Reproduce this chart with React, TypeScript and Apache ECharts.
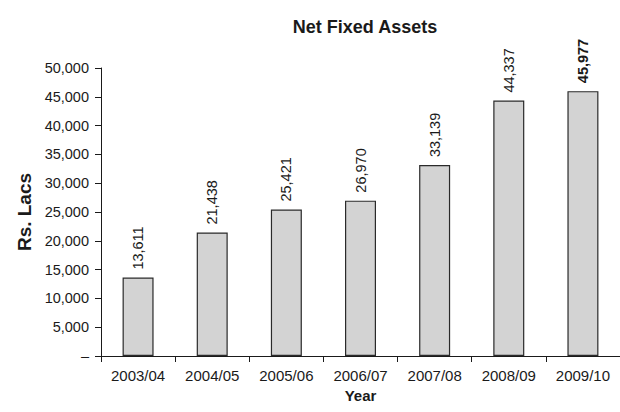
import React, { useEffect, useRef } from "react";
import * as echarts from "echarts";

const categories = ["2003/04", "2004/05", "2005/06", "2006/07", "2007/08", "2008/09", "2009/10"];
const values = [13611, 21438, 25421, 26970, 33139, 44337, 45977];
const boldIndex = 6;
const titleText = "Net Fixed Assets";
const yName = "Rs. Lacs";
const xName = "Year";

const FONT = "'Liberation Sans', Arial, Helvetica, sans-serif";
const fmt = (v: number) => v.toLocaleString("en-US");

export default function App() {
  const ref = useRef<HTMLDivElement>(null);
  useEffect(() => {
    if (!ref.current) return;
    const chart = echarts.init(ref.current, undefined, { renderer: "svg" });
    chart.setOption({
      animation: false,
      backgroundColor: "#ffffff",
      title: {
        text: titleText,
        left: 360,
        top: 13,
        textAlign: "center",
        textStyle: { fontFamily: FONT, fontSize: 18, fontWeight: "bold", color: "#1a1a1a" },
      },
      grid: { left: 101, right: -4, top: 68, bottom: 56, containLabel: false },
      xAxis: {
        type: "category",
        data: categories,
        name: xName,
        nameLocation: "middle",
        nameGap: 30,
        nameTextStyle: { fontFamily: FONT, fontSize: 15, fontWeight: "bold", color: "#1a1a1a" },
        axisLine: { lineStyle: { color: "#1a1a1a", width: 1 } },
        axisTick: { show: true, length: 6, lineStyle: { color: "#1a1a1a" } },
        axisLabel: { fontFamily: FONT, fontSize: 15, color: "#1a1a1a", margin: 12, interval: 0 },
      },
      yAxis: {
        type: "value",
        min: 0,
        max: 50000,
        interval: 5000,
        name: yName,
        nameLocation: "middle",
        nameGap: 66,
        nameTextStyle: { fontFamily: FONT, fontSize: 19, fontWeight: "bold", color: "#1a1a1a" },
        axisLine: { show: true, lineStyle: { color: "#1a1a1a", width: 1 } },
        axisTick: { show: true, length: 6, lineStyle: { color: "#1a1a1a" } },
        splitLine: { show: false },
        axisLabel: {
          fontFamily: FONT,
          fontSize: 14.5,
          color: "#1a1a1a",
          margin: 12,
          formatter: (v: number) => (v === 0 ? "–" : fmt(v)),
        },
      },
      series: [
        {
          type: "bar",
          barWidth: 31,
          data: values.map((v, i) =>
            i === boldIndex
              ? { value: v, label: { fontWeight: "bold" } }
              : v
          ),
          itemStyle: { color: "#d3d3d3", borderColor: "#2a2a2a", borderWidth: 1.2 },
          label: {
            show: true,
            position: "top",
            rotate: 90,
            align: "left",
            verticalAlign: "middle",
            distance: 8,
            fontFamily: FONT,
            fontSize: 14.5,
            color: "#1a1a1a",
            formatter: (p: any) => fmt(p.value),
          },
        },
      ],
    });
    return () => chart.dispose();
  }, []);
  return (
    <div
      ref={ref}
      style={{ position: "fixed", left: 0, top: 0, width: 620, height: 412, background: "#fff" }}
    />
  );
}
